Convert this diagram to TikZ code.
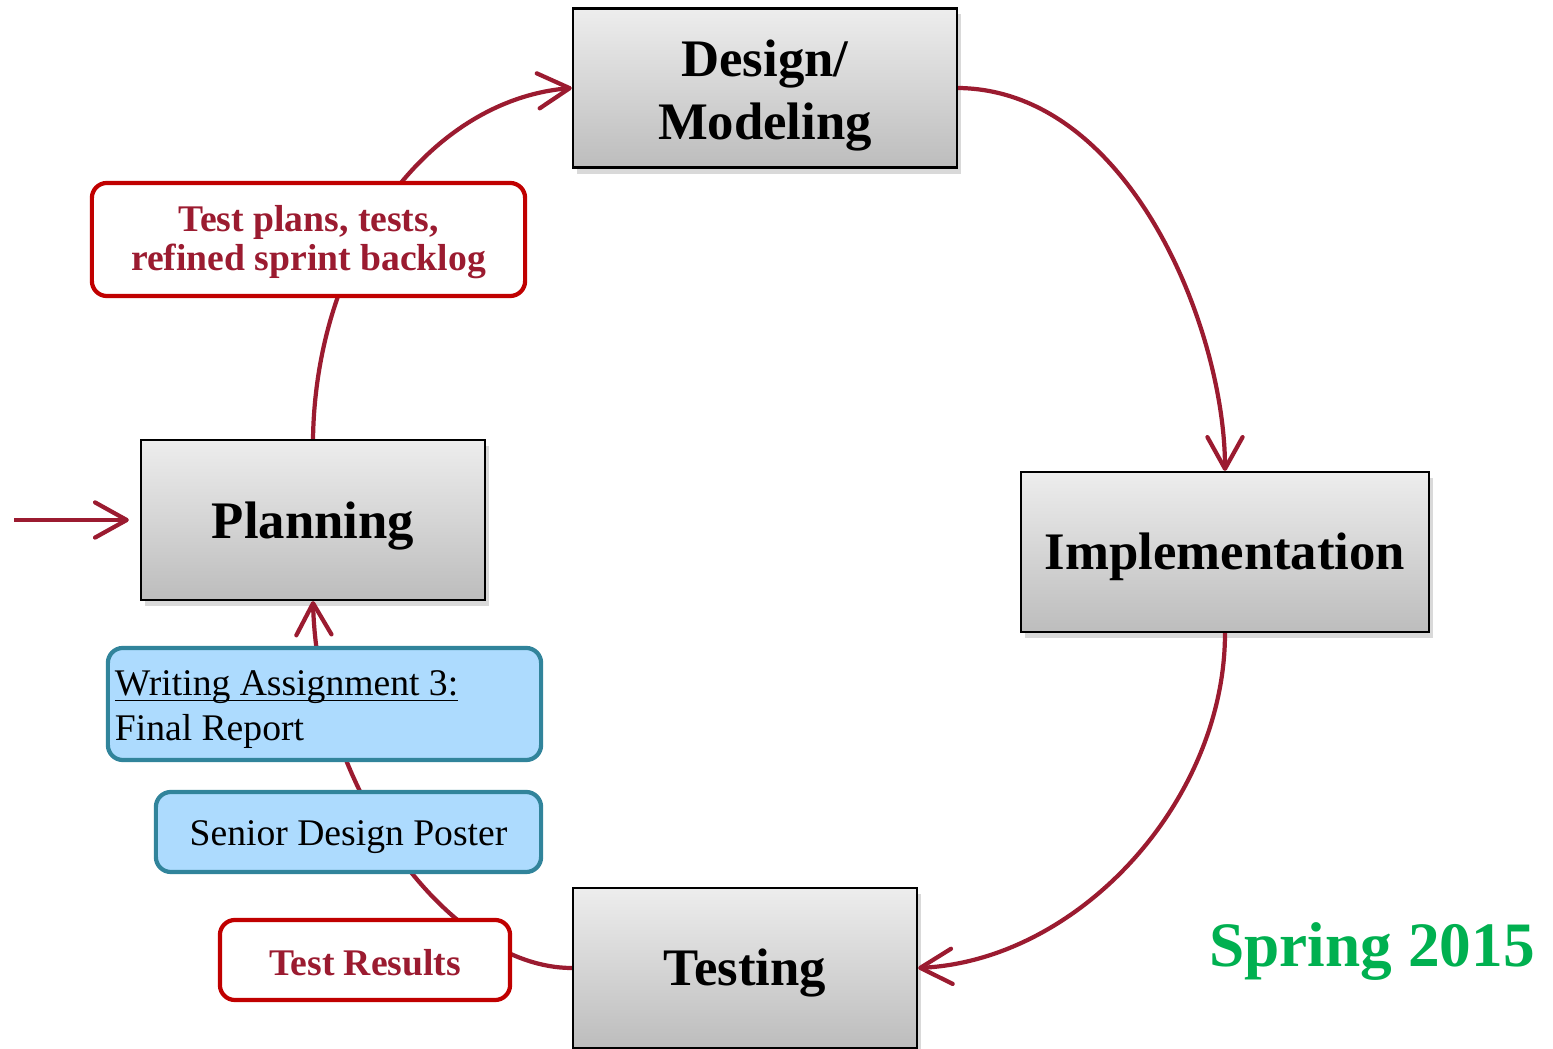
\documentclass[tikz,border=0pt]{standalone}
\usepackage{fontspec}
\setmainfont{Liberation Serif}
\usetikzlibrary{arrows.meta,shadows}
\newcommand{\myuline}[1]{\setbox0\hbox{#1}\rlap{\rule[-1.6pt]{\wd0}{0.45pt}}\box0}
\newcommand{\dn}[2][0.065cm]{\raisebox{-#1}[\height][\depth]{#2}}
\definecolor{flowred}{HTML}{9B1B30}
\definecolor{boxred}{HTML}{C00000}
\definecolor{tealb}{HTML}{31849B}
\definecolor{lightb}{HTML}{ADDBFE}
\definecolor{springg}{HTML}{00B050}
\tikzset{
  phase/.style={draw=black, line width=0.6pt, top color=black!7, bottom color=black!26,
    drop shadow={shadow xshift=0.04cm, shadow yshift=-0.06cm, opacity=0.3},
    font=\fontsize{15}{18}\selectfont\bfseries, inner sep=0pt},
  redlabel/.style={draw=boxred, line width=1.2pt, fill=white, rounded corners=0.15cm,
    text=flowred, font=\fontsize{10.7}{11}\selectfont\bfseries, inner sep=0pt},
  bluelabel/.style={draw=tealb, line width=1.2pt, fill=lightb, rounded corners=0.15cm,
    font=\fontsize{10.7}{12.8}\selectfont, inner sep=0pt},
  flow/.style={draw=flowred, line width=1.2pt, -{Straight Barb[length=9pt,width=10pt,round]}}
}
\begin{document}
\begin{tikzpicture}[x=0.01cm,y=-0.01cm]
\useasboundingbox (0,0) rectangle (1553,1049);
% phase boxes
\node[phase, minimum width=3.84cm, minimum height=1.59cm] (design) at (765,88)
  {\dn[0.07cm]{\begin{tabular}{@{}c@{}}Design/\\Modeling\end{tabular}}};
\node[phase, minimum width=3.44cm, minimum height=1.60cm] (planning) at (313,520) {\dn{Planning}};
\node[phase, minimum width=4.08cm, minimum height=1.60cm] (impl) at (1225,552) {\dn[0.05cm]{Implementation}};
\node[phase, minimum width=3.44cm, minimum height=1.60cm] (testing) at (745,968) {\dn[0.055cm]{Testing}};
% connectors
\coordinate (entry) at (14,520);
\draw[flow] (entry) -- ([xshift=-0.11cm]planning.west);
\draw[flow] (planning.north) .. controls (316,250) and (430,100) .. (design.west);
\draw[flow] (design.east) .. controls (1130,90) and (1225,330) .. (impl.north);
\draw[flow] (impl.south) .. controls (1225,800) and (1080,960) .. (testing.east);
\draw[flow] (testing.west) .. controls (450,968) and (318,790) .. (planning.south);
% labels
\node[redlabel, minimum width=4.33cm, minimum height=1.13cm] (tp) at (308.5,239.5)
  {\dn[0.04cm]{\begin{tabular}{@{}c@{}}Test plans, tests,\\refined sprint backlog\end{tabular}}};
\node[bluelabel, minimum width=4.33cm, minimum height=1.12cm] (wa) at (324.5,704)
  {\makebox[4.19cm][l]{\dn[0.05cm]{\begin{tabular}{@{}l@{}}\myuline{Writing Assignment 3:}\\Final Report\end{tabular}}}};
\node[bluelabel, minimum width=3.85cm, minimum height=0.80cm] (sdp) at (348.5,832) {\dn[0.05cm]{Senior Design Poster}};
\node[redlabel, minimum width=2.90cm, minimum height=0.80cm] (tr) at (365,960) {\dn[0.03cm]{Test Results}};
\node[text=springg, font=\fontsize{18}{20}\selectfont\bfseries, inner sep=0pt] (spring) at (1372,952) {Spring 2015};
\end{tikzpicture}
\end{document}
